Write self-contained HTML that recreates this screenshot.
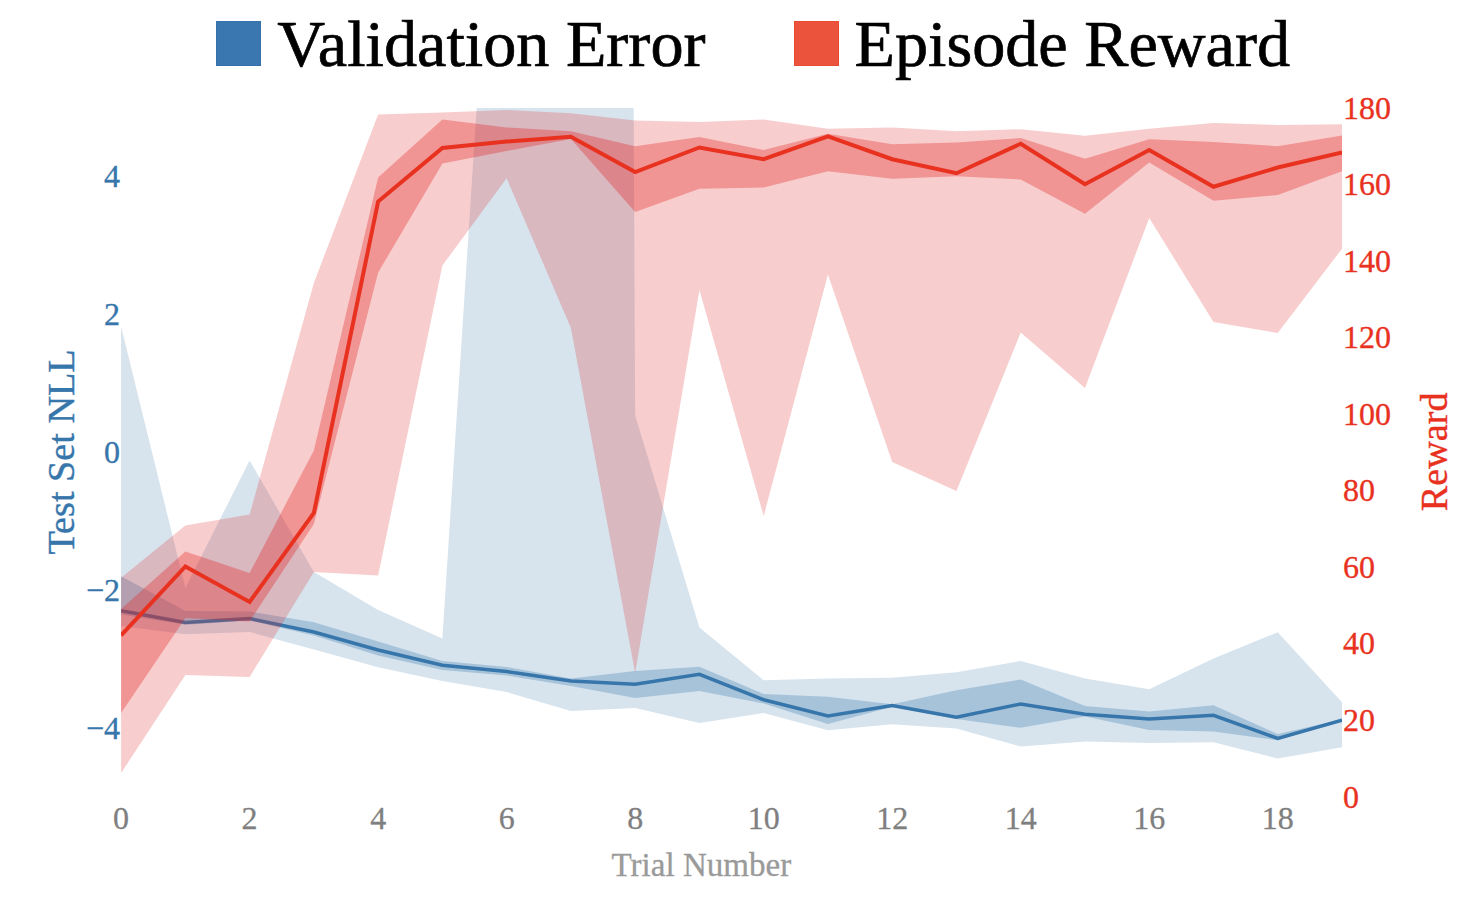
<!DOCTYPE html>
<html><head><meta charset="utf-8"><title>Validation Error / Episode Reward</title>
<style>html,body{margin:0;padding:0;background:#fff;}body{width:1464px;height:912px;overflow:hidden;}svg{display:block;}text{font-family:"Liberation Serif","Times New Roman",Times,serif;}</style></head><body>
<svg width="1464" height="912" viewBox="0 0 1464 912">
<rect x="0" y="0" width="1464" height="912" fill="#ffffff"/>
<defs><clipPath id="plotclip"><rect x="121.10" y="108" width="1220.90" height="689"/></clipPath></defs>
<g clip-path="url(#plotclip)">
<polygon points="121.10,326.50 185.36,588.00 249.62,460.50 313.87,572.00 378.13,610.00 442.39,638.50 506.65,-357.00 570.91,-12750.00 635.16,415.50 699.42,627.50 763.68,680.25 827.94,678.50 892.20,677.75 956.45,672.25 1020.71,661.00 1084.97,678.50 1149.23,689.25 1213.49,658.50 1277.74,632.25 1342.00,702.25 1342.00,747.25 1277.74,758.50 1213.49,742.25 1149.23,743.00 1084.97,741.50 1020.71,746.50 956.45,728.50 892.20,724.25 827.94,730.25 763.68,713.00 699.42,723.00 635.16,708.00 570.91,711.00 506.65,692.00 442.39,681.00 378.13,667.20 313.87,649.60 249.62,632.00 185.36,634.30 121.10,626.00" fill="#3776ab" fill-opacity="0.2"/>
<polygon points="121.10,576.20 185.36,611.00 249.62,611.50 313.87,622.20 378.13,641.50 442.39,661.00 506.65,667.00 570.91,678.50 635.16,671.00 699.42,666.75 763.68,694.00 827.94,696.75 892.20,704.25 956.45,690.25 1020.71,679.50 1084.97,706.00 1149.23,711.50 1213.49,705.25 1277.74,734.00 1342.00,719.50 1342.00,721.00 1277.74,740.25 1213.49,731.50 1149.23,730.00 1084.97,716.50 1020.71,727.75 956.45,719.00 892.20,706.75 827.94,724.00 763.68,703.50 699.42,691.00 635.16,698.00 570.91,686.00 506.65,675.50 442.39,670.00 378.13,655.50 313.87,635.50 249.62,620.50 185.36,624.80 121.10,614.50" fill="#3776ab" fill-opacity="0.3"/>
<polyline points="121.10,610.70 185.36,622.50 249.62,618.50 313.87,632.00 378.13,650.00 442.39,665.25 506.65,671.50 570.91,681.00 635.16,684.25 699.42,674.25 763.68,699.75 827.94,716.00 892.20,705.50 956.45,717.25 1020.71,704.00 1084.97,714.25 1149.23,719.00 1213.49,715.25 1277.74,738.50 1342.00,720.25" fill="none" stroke="#3776ab" stroke-width="3.5" stroke-linejoin="miter"/>
<polygon points="121.10,577.70 185.36,525.50 249.62,514.50 313.87,283.00 378.13,114.50 442.39,112.50 506.65,110.00 570.91,113.30 635.16,120.40 699.42,122.00 763.68,119.50 827.94,128.75 892.20,127.50 956.45,131.25 1020.71,129.25 1084.97,135.75 1149.23,128.75 1213.49,123.00 1277.74,125.00 1342.00,124.25 1342.00,248.75 1277.74,333.00 1213.49,322.00 1149.23,218.00 1084.97,388.00 1020.71,332.50 956.45,491.00 892.20,462.00 827.94,274.50 763.68,516.00 699.42,290.00 635.16,673.00 570.91,328.00 506.65,178.25 442.39,265.50 378.13,575.50 313.87,572.00 249.62,677.00 185.36,675.00 121.10,773.00" fill="#e22828" fill-opacity="0.233"/>
<polygon points="121.10,609.00 185.36,551.50 249.62,573.00 313.87,450.50 378.13,177.50 442.39,119.50 506.65,127.50 570.91,131.25 635.16,146.25 699.42,137.00 763.68,150.00 827.94,133.75 892.20,144.25 956.45,142.50 1020.71,138.00 1084.97,158.75 1149.23,139.25 1213.49,142.00 1277.74,146.25 1342.00,135.50 1342.00,171.25 1277.74,195.00 1213.49,200.75 1149.23,162.50 1084.97,213.75 1020.71,179.50 956.45,176.25 892.20,178.75 827.94,171.25 763.68,187.50 699.42,188.75 635.16,212.00 570.91,139.00 506.65,151.00 442.39,163.50 378.13,272.50 313.87,524.00 249.62,621.50 185.36,618.00 121.10,713.00" fill="#e22828" fill-opacity="0.345"/>
<polyline points="121.10,635.30 185.36,566.50 249.62,602.00 313.87,513.00 378.13,201.50 442.39,148.00 506.65,141.50 570.91,136.75 635.16,172.00 699.42,147.50 763.68,159.25 827.94,136.25 892.20,159.25 956.45,173.25 1020.71,143.75 1084.97,184.25 1149.23,150.00 1213.49,186.75 1277.74,167.50 1342.00,152.50" fill="none" stroke="#e8321f" stroke-width="4" stroke-linejoin="miter"/>
</g>
<rect x="216.5" y="21.5" width="44" height="44" fill="#3a76af" stroke="#3572ab" stroke-width="1"/>
<text x="277.3" y="65.5" font-size="66.2" fill="#000" stroke="#000" stroke-width="0.7">Validation Error</text>
<rect x="794.5" y="21.5" width="44" height="44" fill="#eb533c" stroke="#e94a34" stroke-width="1"/>
<text x="854.5" y="65.5" font-size="66.2" fill="#000" stroke="#000" stroke-width="0.7">Episode Reward</text>
<text x="121.10" y="829" font-size="32" fill="#7f7f7f" stroke="#7f7f7f" stroke-width="0.3" text-anchor="middle">0</text>
<text x="249.62" y="829" font-size="32" fill="#7f7f7f" stroke="#7f7f7f" stroke-width="0.3" text-anchor="middle">2</text>
<text x="378.13" y="829" font-size="32" fill="#7f7f7f" stroke="#7f7f7f" stroke-width="0.3" text-anchor="middle">4</text>
<text x="506.65" y="829" font-size="32" fill="#7f7f7f" stroke="#7f7f7f" stroke-width="0.3" text-anchor="middle">6</text>
<text x="635.16" y="829" font-size="32" fill="#7f7f7f" stroke="#7f7f7f" stroke-width="0.3" text-anchor="middle">8</text>
<text x="763.68" y="829" font-size="32" fill="#7f7f7f" stroke="#7f7f7f" stroke-width="0.3" text-anchor="middle">10</text>
<text x="892.20" y="829" font-size="32" fill="#7f7f7f" stroke="#7f7f7f" stroke-width="0.3" text-anchor="middle">12</text>
<text x="1020.71" y="829" font-size="32" fill="#7f7f7f" stroke="#7f7f7f" stroke-width="0.3" text-anchor="middle">14</text>
<text x="1149.23" y="829" font-size="32" fill="#7f7f7f" stroke="#7f7f7f" stroke-width="0.3" text-anchor="middle">16</text>
<text x="1277.74" y="829" font-size="32" fill="#7f7f7f" stroke="#7f7f7f" stroke-width="0.3" text-anchor="middle">18</text>
<text x="701.4" y="875.5" font-size="33.1" fill="#9a9a9a" stroke="#9a9a9a" stroke-width="0.3" text-anchor="middle">Trial Number</text>
<text x="120" y="187.30" font-size="32" fill="#3776ab" stroke="#3776ab" stroke-width="0.35" text-anchor="end">4</text>
<text x="120" y="325.10" font-size="32" fill="#3776ab" stroke="#3776ab" stroke-width="0.35" text-anchor="end">2</text>
<text x="120" y="462.90" font-size="32" fill="#3776ab" stroke="#3776ab" stroke-width="0.35" text-anchor="end">0</text>
<text x="120" y="600.70" font-size="32" fill="#3776ab" stroke="#3776ab" stroke-width="0.35" text-anchor="end">−2</text>
<text x="120" y="738.50" font-size="32" fill="#3776ab" stroke="#3776ab" stroke-width="0.35" text-anchor="end">−4</text>
<text transform="translate(73.8,452) rotate(-90)" font-size="38.2" fill="#3776ab" stroke="#3776ab" stroke-width="0.4" text-anchor="middle">Test Set NLL</text>
<text x="1343" y="807.50" font-size="32" fill="#e8321f" stroke="#e8321f" stroke-width="0.35" text-anchor="start">0</text>
<text x="1343" y="730.94" font-size="32" fill="#e8321f" stroke="#e8321f" stroke-width="0.35" text-anchor="start">20</text>
<text x="1343" y="654.39" font-size="32" fill="#e8321f" stroke="#e8321f" stroke-width="0.35" text-anchor="start">40</text>
<text x="1343" y="577.83" font-size="32" fill="#e8321f" stroke="#e8321f" stroke-width="0.35" text-anchor="start">60</text>
<text x="1343" y="501.28" font-size="32" fill="#e8321f" stroke="#e8321f" stroke-width="0.35" text-anchor="start">80</text>
<text x="1343" y="424.72" font-size="32" fill="#e8321f" stroke="#e8321f" stroke-width="0.35" text-anchor="start">100</text>
<text x="1343" y="348.17" font-size="32" fill="#e8321f" stroke="#e8321f" stroke-width="0.35" text-anchor="start">120</text>
<text x="1343" y="271.61" font-size="32" fill="#e8321f" stroke="#e8321f" stroke-width="0.35" text-anchor="start">140</text>
<text x="1343" y="195.06" font-size="32" fill="#e8321f" stroke="#e8321f" stroke-width="0.35" text-anchor="start">160</text>
<text x="1343" y="118.50" font-size="32" fill="#e8321f" stroke="#e8321f" stroke-width="0.35" text-anchor="start">180</text>
<text transform="translate(1447,451.8) rotate(-90)" font-size="38.2" fill="#e8321f" stroke="#e8321f" stroke-width="0.4" text-anchor="middle">Reward</text>
</svg></body></html>
